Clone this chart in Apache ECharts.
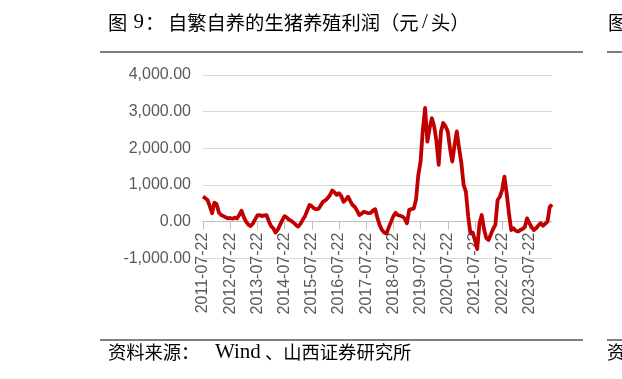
<!DOCTYPE html>
<html><head><meta charset="utf-8">
<script src="https://cdn.jsdelivr.net/npm/echarts@6/dist/echarts.min.js"></script>
<style>html,body{margin:0;padding:0;background:#fff}#c{width:622px;height:379px}</style>
</head><body><div id="c"></div>
<script>
// Monthly categories (22nd of each month), 2011-07 .. 2024-05
const startYear = 2011, startMonth = 7, nMonths = 155;
const categories = [];
for (let k = 0; k < nMonths; k++) {
  const m = startMonth - 1 + k;
  const y = startYear + Math.floor(m / 12);
  const mm = (m % 12) + 1;
  categories.push(y + '-' + String(mm).padStart(2, '0') + '-22');
}
// 自繁自养生猪养殖利润 (元/头)
const profit = [
  680, 640, 590, 420, 230, 520, 480, 250, 180, 150, 120, 90,
  100, 80, 110, 90, 180, 300, 120, 0, -80, -120, -50, 60,
  170, 180, 150, 170, 180, 20, -120, -180, -300, -220, -90, 40,
  150, 110, 50, 20, -30, -90, -135, -60, 50, 150, 300, 455,
  420, 360, 340, 350, 450, 545, 580, 640, 720, 850, 800, 730,
  775, 700, 540, 600, 680, 560, 455, 400, 300, 180, 220, 270,
  250, 230, 240, 300, 340, 90, -100, -230, -300, -320, -150, 0,
  150, 240, 180, 160, 140, 80, -45, 320, 340, 360, 600, 1270,
  1640, 2500, 3100, 2180, 2550, 2820, 2600, 2200, 1550, 2460, 2690, 2600,
  2460, 2000, 1640, 2090, 2460, 2000, 1600, 1000, 820, 150, -320, -300,
  -500, -750, -45, 180, -200, -450, -500, -350, -200, -90, 590, 680,
  865, 1230, 775, 230, -230, -180, -250, -270, -230, -200, -150, 90,
  -45, -150, -230, -180, -100, -45, -110, -60, 0, 400, 470
];
const yMin = -1000, yMax = 4000, yStep = 1000;

const gridTop = 75, gridBottomY = 258.3;
const pxPerUnit = (gridBottomY - gridTop) / (yMax - yMin);
const zeroOffset = -(0 - yMin) * pxPerUnit; // move x axis up to the zero line

const cjk = '"Noto Sans CJK SC", sans-serif';
const lat = '"Liberation Serif", "Times New Roman", serif';
function t(x, yc, text, size, family) {
  return {type: 'text', left: x, top: yc - size * 0.58,
    style: {text: text, font: size + 'px ' + family, fill: '#000'}};
}

const chart = echarts.init(document.getElementById('c'), null, {renderer: 'canvas'});
chart.setOption({
  animation: false,
  grid: {left: 203, right: 70, top: gridTop, bottom: 379 - gridBottomY, containLabel: false},
  xAxis: {
    type: 'category', data: categories, boundaryGap: false,
    offset: zeroOffset,
    axisLine: {onZero: false, lineStyle: {color: '#bfbfbf', width: 1}},
    axisTick: {show: true, interval: 11, length: 8, lineStyle: {color: '#bfbfbf'}},
    axisLabel: {interval: 11, rotate: 90, margin: 11, color: '#595959', fontSize: 16,
      fontFamily: '"Liberation Sans", Arial, sans-serif'},
    splitLine: {show: false}
  },
  yAxis: {
    type: 'value', min: yMin, max: yMax, interval: yStep,
    axisLine: {show: false}, axisTick: {show: false},
    axisLabel: {margin: 12, color: '#595959', fontSize: 16,
      fontFamily: '"Liberation Sans", Arial, sans-serif',
      formatter: v => v.toLocaleString('en-US', {minimumFractionDigits: 2, maximumFractionDigits: 2})},
    splitLine: {lineStyle: {color: '#d9d9d9', width: 1}}
  },
  series: [{
    type: 'line', data: profit, showSymbol: false, symbol: 'none',
    lineStyle: {color: '#c00000', width: 3.8, join: 'round'}
  }],
  graphic: [
    t(108, 24, '图', 19.3, cjk),
    t(133.5, 24, '9', 21, lat),
    t(145, 24, '：', 19.3, cjk),
    t(168, 24, '自繁自养的生猪养殖利润（元', 19.3, cjk),
    t(422, 24, '/', 21, lat),
    t(431, 24, '头）', 19.3, cjk),
    t(608, 24, '图', 19.3, cjk),
    {type: 'line', shape: {x1: 100, y1: 52, x2: 583, y2: 52}, style: {stroke: '#000', lineWidth: 1}},
    {type: 'line', shape: {x1: 607, y1: 52, x2: 622, y2: 52}, style: {stroke: '#000', lineWidth: 1}},
    {type: 'line', shape: {x1: 100, y1: 340, x2: 583, y2: 340}, style: {stroke: '#000', lineWidth: 1}},
    {type: 'line', shape: {x1: 607, y1: 340, x2: 622, y2: 340}, style: {stroke: '#000', lineWidth: 1}},
    t(108, 354, '资料来源：', 18.3, cjk),
    t(215, 354, 'Wind', 21, lat),
    t(265, 354, '、山西证券研究所', 18.3, cjk),
    t(607, 354, '资', 18.3, cjk)
  ]
});
</script></body></html>
